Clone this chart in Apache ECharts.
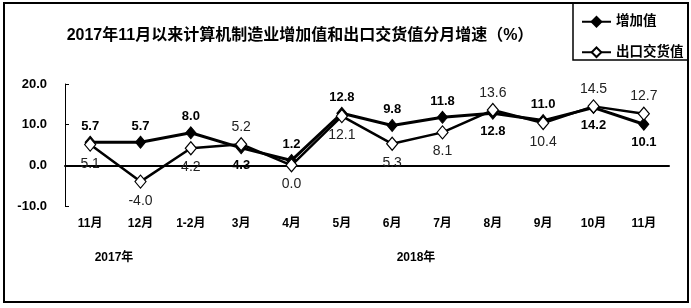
<!DOCTYPE html>
<html>

<head>
    <meta charset="UTF-8">
    <title>计算机制造业增速</title>
    <script src="https://cdn.jsdelivr.net/npm/echarts@6/dist/echarts.min.js"></script>
    <style>
        html, body { margin: 0; padding: 0; background: #fff; }
        #chart { width: 691px; height: 308px; }
    </style>
</head>

<body>
    <div id="chart"></div>
    <script>
        // 月份
        const months = ['11月', '12月', '1-2月', '3月', '4月', '5月', '6月', '7月', '8月', '9月', '10月', '11月'];
        // 增加值增速
        const addedValue = [5.7, 5.7, 8.0, 4.3, 1.2, 12.8, 9.8, 11.8, 12.8, 11.0, 14.2, 10.1];
        // 出口交货值增速
        const exportValue = [5.1, -4.0, 4.2, 5.2, 0.0, 12.1, 5.3, 8.1, 13.6, 10.4, 14.5, 12.7];
        const yTicks = [-10, 0, 10, 20];

        const font = '"Liberation Sans", "Noto Sans CJK SC", sans-serif';

        // 标签位置：较高的在上方，较低的在下方
        const pos = up => up ? { position: 'top', distance: 3 } : { position: 'bottom', distance: 5 };
        const addedData = addedValue.map((v, i) => ({ value: v, label: pos(v >= exportValue[i]) }));
        const exportData = exportValue.map((v, i) => ({ value: v, label: pos(v > addedValue[i]) }));

        const chart = echarts.init(document.getElementById('chart'));
        chart.setOption({
            animation: false,
            backgroundColor: '#fff',
            title: {
                text: '2017年11月以来计算机制造业增加值和出口交货值分月增速（%）',
                left: 295,
                top: 23,
                textAlign: 'center',
                textStyle: { fontFamily: font, fontSize: 16, fontWeight: 'bold', color: '#000' }
            },
            legend: {
                orient: 'vertical',
                left: 576,
                top: 10,
                itemWidth: 29,
                itemHeight: 12,
                itemGap: 17,
                textStyle: { fontFamily: font, fontSize: 13.5, fontWeight: 'bold', color: '#000' },
                data: ['增加值', '出口交货值']
            },
            grid: { left: 65, top: 84, width: 604, height: 122 },
            xAxis: {
                type: 'category',
                data: months,
                boundaryGap: true,
                axisLine: { lineStyle: { color: '#000', width: 2 } },
                axisTick: { show: false },
                axisLabel: { margin: 12, fontFamily: font, fontSize: 12, fontWeight: 'bold', color: '#000', interval: 0 }
            },
            yAxis: {
                type: 'value',
                min: yTicks[0],
                max: yTicks[yTicks.length - 1],
                interval: 10,
                splitLine: { show: false },
                axisLine: { show: true, lineStyle: { color: '#000', width: 1 } },
                axisTick: { show: true, inside: true, length: 4, lineStyle: { color: '#000' } },
                axisLabel: {
                    margin: 18,
                    fontFamily: font, fontSize: 13, fontWeight: 'bold', color: '#000',
                    formatter: v => v.toFixed(1)
                }
            },
            series: [
                {
                    name: '增加值',
                    type: 'line',
                    data: addedData,
                    symbol: 'diamond',
                    symbolSize: [10, 12],
                    lineStyle: { color: '#000', width: 3 },
                    itemStyle: { color: '#000', borderColor: '#000', borderWidth: 1 },
                    label: {
                        show: true,
                        fontFamily: font, fontSize: 13, fontWeight: 'bold', color: '#000',
                        formatter: p => p.value.toFixed(1)
                    },
                    z: 2
                },
                {
                    name: '出口交货值',
                    type: 'line',
                    data: exportData,
                    symbol: 'diamond',
                    symbolSize: [11, 13],
                    lineStyle: { color: '#000', width: 2.5 },
                    itemStyle: { color: '#fff', borderColor: '#000', borderWidth: 1.2 },
                    label: {
                        show: true,
                        fontFamily: font, fontSize: 14, color: '#222',
                        formatter: p => p.value.toFixed(1)
                    },
                    z: 3
                }
            ],
            graphic: [
                {
                    type: 'rect',
                    shape: { x: 4, y: 3, width: 684, height: 299 },
                    style: { fill: 'none', stroke: '#000', lineWidth: 2 },
                    z: -1
                },
                {
                    type: 'polyline',
                    shape: { points: [[573, 3], [573, 60], [688, 60]] },
                    style: { fill: 'none', stroke: '#000', lineWidth: 1.5 }
                },
                {
                    type: 'text',
                    x: 114, y: 258,
                    style: { text: '2017年', font: 'bold 12px ' + font, fill: '#000', align: 'center', verticalAlign: 'middle' }
                },
                {
                    type: 'text',
                    x: 416, y: 258,
                    style: { text: '2018年', font: 'bold 12px ' + font, fill: '#000', align: 'center', verticalAlign: 'middle' }
                }
            ]
        });
    </script>
</body>

</html>
